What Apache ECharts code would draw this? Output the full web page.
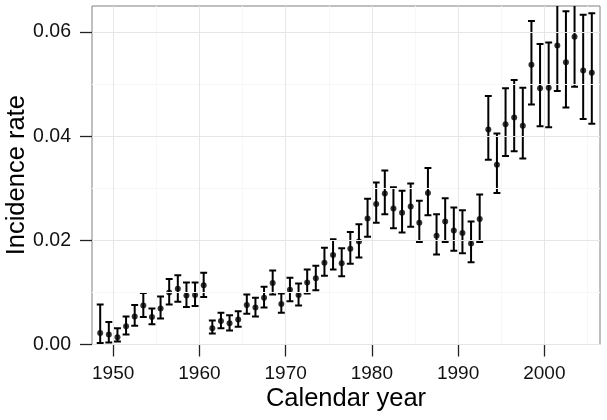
<!DOCTYPE html>
<html>
<head>
<meta charset="utf-8">
<script src="https://cdn.jsdelivr.net/npm/echarts@6/dist/echarts.min.js"></script>
<style>
html,body{margin:0;padding:0;background:#fff;}
#c{width:607px;height:420px;}
</style>
</head>
<body>
<div id="c"></div>
<script>
const years = [1948.5,1949.5,1950.5,1951.5,1952.5,1953.5,1954.5,1955.5,1956.5,1957.5,1958.5,1959.5,1960.5,
  1961.5,1962.5,1963.5,1964.5,1965.5,1966.5,1967.5,1968.5,1969.5,1970.5,1971.5,1972.5,1973.5,1974.5,1975.5,1976.5,1977.5,1978.5,1979.5,1980.5,1981.5,
  1982.5,1983.5,1984.5,1985.5,1986.5,1987.5,1988.5,1989.5,1990.5,1991.5,1992.5,1993.5,
  1994.5,1995.5,1996.5,1997.5,1998.5,1999.5,2000.5,2001.5,2002.5,2003.5,2004.5,2005.5];
const rate = [0.0022,0.0019,0.0014,0.0035,0.0054,0.0075,0.0053,0.0069,0.0100,0.0107,0.0094,0.0095,0.0114,
  0.0031,0.0045,0.0041,0.0048,0.0076,0.0071,0.0090,0.0118,0.0078,0.0105,0.0095,0.0119,0.0127,0.0157,0.0172,0.0156,0.0184,0.0198,0.0242,0.0270,0.0290,
  0.0261,0.0253,0.0265,0.0234,0.0291,0.0209,0.0236,0.0219,0.0214,0.0194,0.0241,0.0413,
  0.0345,0.0423,0.0436,0.0420,0.0537,0.0492,0.0493,0.0574,0.0542,0.0591,0.0526,0.0522];
const lower = [0.0003,0.0004,0.0006,0.0019,0.0036,0.0053,0.0039,0.0050,0.0077,0.0082,0.0072,0.0074,0.0091,
  0.0021,0.0031,0.0027,0.0034,0.0059,0.0054,0.0071,0.0096,0.0061,0.0083,0.0075,0.0098,0.0104,0.0132,0.0144,0.0131,0.0155,0.0167,0.0207,0.0234,0.0250,
  0.0223,0.0215,0.0226,0.0197,0.0248,0.0173,0.0197,0.0180,0.0175,0.0158,0.0197,0.0355,
  0.0291,0.0362,0.0371,0.0357,0.0461,0.0419,0.0417,0.0487,0.0455,0.0495,0.0433,0.0424];
const upper = [0.0077,0.0043,0.0031,0.0054,0.0076,0.0099,0.0069,0.0092,0.0126,0.0133,0.0119,0.0119,0.0138,
  0.0046,0.0061,0.0056,0.0064,0.0096,0.0090,0.0111,0.0142,0.0098,0.0128,0.0117,0.0144,0.0151,0.0186,0.0202,0.0185,0.0216,0.0231,0.0280,0.0311,0.0334,
  0.0302,0.0295,0.0309,0.0276,0.0339,0.0250,0.0281,0.0263,0.0258,0.0236,0.0288,0.0477,
  0.0405,0.0492,0.0508,0.0493,0.0621,0.0577,0.0580,0.0665,0.0640,0.0690,0.0633,0.0636];
const xTicks = [1950,1960,1970,1980,1990,2000];
const xMinor = [1955,1965,1975,1985,1995,2005];
const yTicks = [0,0.02,0.04,0.06];
const yMinor = [0.01,0.03,0.05];

const FONT = '"Liberation Sans", Arial, Helvetica, sans-serif';
const chart = echarts.init(document.getElementById('c'), null, {renderer:'canvas'});

const pts = years.map((y,i)=>[y, rate[i]]);
const bars = years.map((y,i)=>[y, lower[i], upper[i]]);

const gridLines = [];
xMinor.forEach(v=>gridLines.push({xAxis:v, lineStyle:{color:'#f7f7f7', width:1, type:'solid'}}));
yMinor.forEach(v=>gridLines.push({yAxis:v, lineStyle:{color:'#f7f7f7', width:1, type:'solid'}}));
xTicks.forEach(v=>gridLines.push({xAxis:v, lineStyle:{color:'#e6e6e6', width:1, type:'solid'}}));
yTicks.forEach(v=>gridLines.push({yAxis:v, lineStyle:{color:'#e6e6e6', width:1, type:'solid'}}));

chart.setOption({
  animation:false,
  backgroundColor:'#fff',
  grid:{left:92, right:7, top:6, bottom:75.5, outerBoundsMode:'none', containLabel:false,
    show:true, borderColor:'#808080', borderWidth:1, backgroundColor:'transparent'},
  xAxis:{
    type:'value', min:1947.55, max:2006.45,
    name:'Calendar year', nameLocation:'middle', nameGap:41, nameMoveOverlap:false,
    nameTextStyle:{fontFamily:FONT, fontSize:25.5, color:'#000'},
    axisLine:{show:false},
    splitLine:{show:false},
    axisTick:{show:true, length:12, lineStyle:{color:'#222', width:1.3}, customValues:xTicks},
    axisLabel:{fontFamily:FONT, fontSize:19, color:'#111', margin:20, customValues:xTicks,
      formatter:v=>String(Math.round(v))}
  },
  yAxis:{
    type:'value', min:0, max:0.065,
    name:'Incidence rate', nameLocation:'middle', nameGap:62, nameRotate:90, nameMoveOverlap:false,
    nameTextStyle:{fontFamily:FONT, fontSize:25.5, color:'#000'},
    axisLine:{show:false},
    splitLine:{show:false},
    axisTick:{show:true, length:12, lineStyle:{color:'#222', width:1.3}, customValues:yTicks},
    axisLabel:{fontFamily:FONT, fontSize:19.5, color:'#111', margin:21, customValues:yTicks,
      formatter:v=>v.toFixed(2)}
  },
  series:[
    {
      type:'custom',
      clip:true,
      z:2,
      encode:{x:0, y:[1,2]},
      data:bars,
      markLine:{silent:true, symbol:'none', label:{show:false}, animation:false, data:gridLines},
      renderItem:function(params, api){
        const x = api.value(0), lo = api.value(1), hi = api.value(2);
        const t = api.coord([x, hi]);
        const b = api.coord([x, lo]);
        const hw = api.size([0.8, 0])[0] / 2;
        const st = {stroke:'#000', lineWidth:2};
        return {type:'group', children:[
          {type:'line', shape:{x1:t[0], y1:t[1], x2:b[0], y2:b[1]}, style:st},
          {type:'line', shape:{x1:t[0]-hw, y1:t[1], x2:t[0]+hw, y2:t[1]}, style:st},
          {type:'line', shape:{x1:b[0]-hw, y1:b[1], x2:b[0]+hw, y2:b[1]}, style:st}
        ]};
      }
    },
    {
      type:'scatter',
      z:3,
      symbol:'circle',
      symbolSize:6,
      itemStyle:{color:'#000'},
      data:pts
    }
  ]
});
</script>
</body>
</html>
